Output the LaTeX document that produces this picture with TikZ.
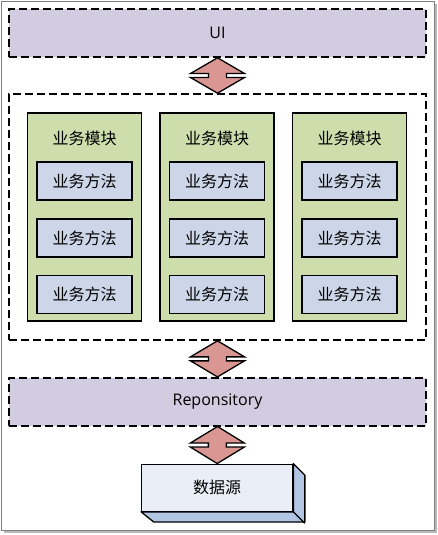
\documentclass[tikz,border=0pt]{standalone}
\usepackage{fontspec}
\setmainfont{Open Sans}
\newfontfamily\cjk{Noto Sans CJK SC}
\usetikzlibrary{calc}
\definecolor{layerfill}{RGB}{210,204,225}
\definecolor{modfill}{RGB}{205,221,172}
\definecolor{methfill}{RGB}{205,214,232}
\definecolor{arrfill}{RGB}{218,150,146}
\definecolor{dsfront}{RGB}{233,238,247}
\definecolor{dsside}{RGB}{178,198,227}
% double arrow between two layers
\newcommand{\updown}[2]{%
  \draw[updownarr] let \p1=($(#1.south)!0.5!(#2.north)$) in
  (#1.south) -- (\x1+27,\y1+2) -- (\x1+9,\y1+2) -- (\x1+9,\y1-2) -- (\x1+27,\y1-2) --
  (#2.north) -- (\x1-27,\y1-2) -- (\x1-9,\y1-2) -- (\x1-9,\y1+2) -- (\x1-27,\y1+2) -- cycle;}
\begin{document}
\begin{tikzpicture}[x=1pt,y=-1pt,font=\fontsize{16}{19}\selectfont,
   layer/.style={draw,fill=layerfill,dash pattern=on 8pt off 4pt,line width=1.6pt,
      minimum width=417pt,minimum height=48pt,inner sep=0pt},
   module/.style={draw,fill=modfill,line width=1.3pt,minimum width=114pt,
      minimum height=208pt,inner sep=0pt},
   method/.style={draw,fill=methfill,line width=1.3pt,minimum width=95pt,
      minimum height=38pt,inner sep=0pt},
   updownarr/.style={draw,fill=arrfill,line width=1.3pt,line join=miter}]
   \useasboundingbox (0,0) rectangle (438,535);
   \fill[gray!55] (4,4) rectangle (437,533);
   \draw[gray,fill=white] (1,1) rectangle (434,530);

   \node[layer] (ui) at (217.5,33) {UI};
   \node[layer,fill=none,minimum height=246pt] (biz) at (217.5,217) {};
   \foreach \x [count=\i] in {84.5,217,349.5}{
      \node[module] (mod\i) at (\x,217) {};
      \node (title\i) at (\x,138.5) {\cjk 业务模块};
      \foreach \y [count=\j] in {181,238,294.5}
         \node[method] (meth\i\j) at (\x,\y) {\cjk 业务方法};
   }
   \node[layer] (repo) at (217.5,401.7) {Reponsitory};

   \node[draw,fill=dsfront,line width=1.3pt,minimum width=151pt,minimum height=47pt,
      inner sep=0pt] (ds) at (217.2,487.7) {\cjk 数据源};
   \draw[fill=dsside,line width=1.3pt,line join=round] (ds.north east) -- ++(11.5,11.5)
      -- ++(0,47) -- ++(-151,0) -- (ds.south west) -- (ds.south east) -- cycle;
   \draw[line width=1.3pt] (ds.south east) -- ++(11.5,11.5);

   \updown{ui}{biz}
   \updown{biz}{repo}
   \updown{repo}{ds}
\end{tikzpicture}
\end{document}
